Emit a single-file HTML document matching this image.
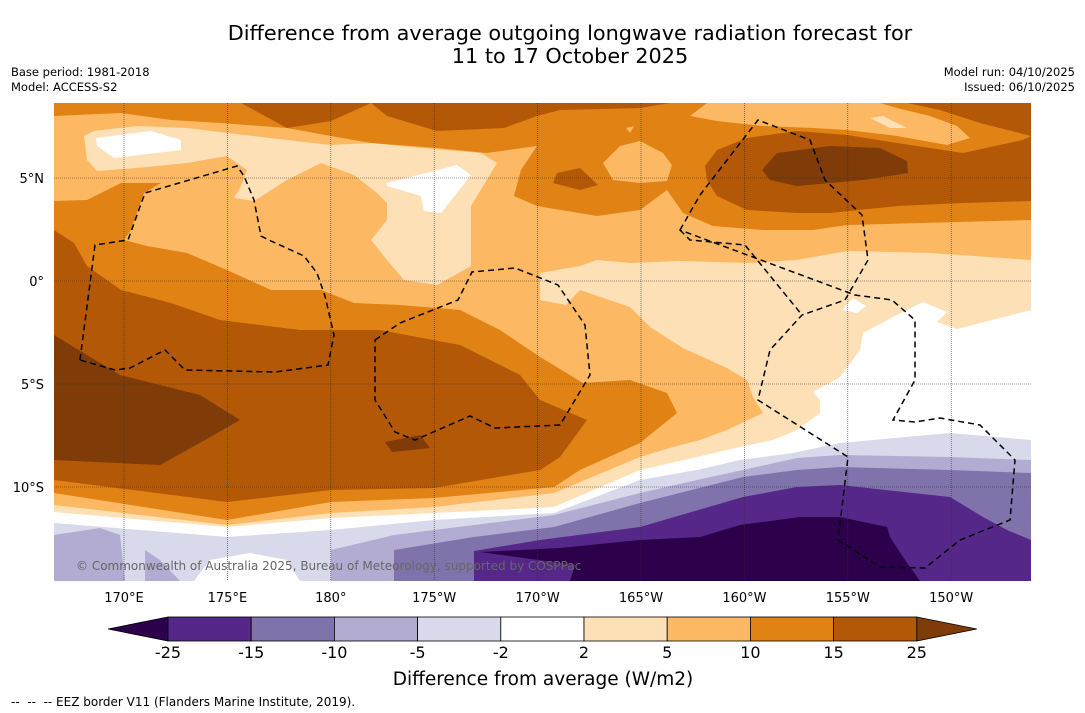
<!DOCTYPE html>
<html><head><meta charset="utf-8">
<style>
body{margin:0;background:#fff;width:1085px;height:713px;overflow:hidden;font-family:"DejaVu Sans","Liberation Sans",sans-serif;}
.t{position:absolute;color:#000;}
</style></head><body>
<div class="t" style="left:0;width:1140px;top:22px;text-align:center;font-size:20.8px;line-height:23px">Difference from average outgoing longwave radiation forecast for<br>11 to 17 October 2025</div>
<div class="t" style="left:11px;top:65px;font-size:11.5px;line-height:15px">Base period: 1981-2018<br>Model: ACCESS-S2</div>
<div class="t" style="right:10px;top:65px;font-size:11.5px;line-height:15px;text-align:right">Model run: 04/10/2025<br>Issued: 06/10/2025</div>
<svg id="chart" width="1085" height="713" style="position:absolute;left:0;top:0" font-family="DejaVu Sans,Liberation Sans,sans-serif">
<defs><clipPath id="mc"><rect x="54" y="103" width="977" height="478"/></clipPath></defs>
<g clip-path="url(#mc)">
<rect x="54" y="103" width="977" height="478" fill="#fdb863"/>
<path fill="#e08214" d="M54,103 L1031,103 L1031,220 L847,225 L813,230 L763,230 L713,226 L683,213 L667,190 L640,210 L597,216 L537,206 L514,196 L521,170 L537,146 L487,153 L437,148 L371,143 L331,136 L287,128 L221,123 L171,120 L121,113 L54,116 Z"/>
<path fill="#e08214" d="M54,201 L87,200 L121,183 L161,183 L144,193 L131,230 L124,240 L147,246 L187,253 L227,270 L271,290 L321,290 L354,303 L400,305 L460,310 L500,330 L540,357 L583,383 L630,380 L667,393 L677,413 L640,443 L580,470 L554,487 L434,498 L331,502 L227,520 L54,493 Z"/>
<path fill="#fdb863" d="M690,116 L707,103 L880,103 L897,108 L930,116 L957,126 L970,138 L947,145 L897,136 L847,130 L813,128 L763,126 L717,121 Z M603,163 L620,146 L640,141 L663,153 L672,165 L667,181 L640,183 L613,180 Z M626,128 L634,126 L630,133 Z"/>
<path fill="#b35806" d="M241,103 L670,103 L640,108 L560,110 L537,116 L504,128 L437,131 L387,116 L371,103 L331,121 L287,128 Z M907,103 L1031,103 L1031,136 L980,123 L940,110 Z M705,166 L717,150 L747,138 L797,131 L847,135 L897,143 L963,153 L1023,140 L1031,136 L1031,201 L963,203 L897,206 L830,213 L797,213 L747,210 L717,196 L707,180 Z M553,183 L557,173 L580,168 L598,185 L580,190 Z M54,230 L74,243 L87,266 L121,290 L171,303 L220,320 L300,330 L380,330 L460,345 L520,375 L540,400 L587,420 L560,457 L540,470 L434,488 L331,490 L227,502 L54,480 Z"/>
<path fill="#7f3b08" d="M54,335 L120,375 L200,395 L240,420 L205,440 L160,465 L54,460 Z M762,170 L777,153 L830,146 L880,148 L907,161 L908,173 L863,180 L797,186 L770,180 Z M385,442 L420,435 L430,448 L392,452 Z"/>
<path fill="#fee0b6" d="M84,136 L87,160 L97,171 L137,168 L187,163 L227,156 L247,170 L241,186 L234,198 L254,201 L287,180 L321,163 L354,175 L377,193 L387,203 L387,220 L371,240 L387,260 L404,280 L437,285 L471,266 L471,206 L497,163 L481,153 L421,148 L371,143 L331,145 L287,140 L227,133 L187,128 L137,126 L94,131 Z M870,118 L883,116 L907,128 L890,128 Z"/>
<path fill="#ffffff" d="M96,138 L151,131 L181,140 L181,150 L114,158 L97,146 Z M387,183 L457,165 L471,175 L441,213 L424,211 L421,196 L387,186 Z"/>
<path fill="#fee0b6" d="M54,505 L227,525 L331,513 L434,507 L554,493 L640,457 L673,447 L700,440 L727,430 L763,413 L753,397 L747,380 L727,368 L683,348 L650,327 L630,307 L580,290 L566,305 L540,300 L540,273 L580,266 L597,260 L630,263 L680,261 L747,263 L797,260 L847,251 L930,253 L1031,260 L1031,581 L54,581 Z"/>
<path fill="#ffffff" d="M54,512 L227,527 L331,518 L434,513 L554,507 L640,470 L697,457 L740,447 L773,440 L797,430 L820,413 L820,400 L813,392 L840,377 L860,350 L863,333 L893,317 L923,302 L947,312 L937,322 L957,329 L1031,310 L1031,581 L54,581 Z M842,310 L853,298 L866,306 L857,313 Z"/>
<path fill="#d8daeb" d="M54,523 L227,537 L331,530 L434,520 L554,513 L640,480 L697,470 L740,460 L793,453 L840,443 L950,433 L1031,440 L1031,581 L54,581 Z"/>
<path fill="#ffffff" d="M194,581 L210,560 L250,553 L287,560 L300,581 Z"/>
<path fill="#b2abd2" d="M54,535 L100,528 L120,535 L125,581 L54,581 Z M145,550 L160,560 L180,581 L145,581 Z M331,550 L394,535 L474,525 L554,515 L640,493 L697,480 L743,470 L797,458 L840,455 L950,457 L1031,460 L1031,581 L331,581 Z"/>
<path fill="#8073ac" d="M394,550 L474,537 L554,527 L640,503 L743,477 L797,470 L840,467 L950,470 L1031,473 L1031,581 L394,581 Z"/>
<path fill="#542788" d="M474,551 L540,540 L640,527 L743,497 L797,487 L840,485 L950,497 L983,517 L1007,530 L1031,540 L1031,581 L474,581 Z"/>
<path fill="#2d004b" d="M480,552 L560,548 L640,540 L700,537 L740,525 L800,517 L840,517 L887,527 L890,537 L905,560 L920,581 L570,581 L575,565 Z"/>
<g id="grid"></g>
<path fill="none" stroke="#000" stroke-width="1.5" stroke-dasharray="6,4" d="M80,360 L95,245 L128,240 L145,193 L237,166 L244,176 L254,200 L261,236 L271,241 L304,256 L317,273 L325,296 L334,335 L328,365 L275,372 L185,370 L165,350 L130,368 L115,370 Z M680,230 L700,195 L758,120 L810,140 L825,180 L862,215 L868,260 L845,300 L802,315 L770,350 L758,400 L848,457 L838,540 L880,567 L925,568 L960,540 L1010,520 L1015,460 L980,425 L940,418 L915,422 L893,420 L915,380 L915,320 L892,300 L855,295 Z M680,230 L690,240 L745,245 L802,315 M375,340 L400,323 L458,300 L472,272 L515,268 L558,285 L585,325 L590,375 L560,425 L495,428 L470,416 L415,440 L395,432 L375,400 Z"/>
</g>
<text x="76" y="570" font-size="12" fill="#666">© Commonwealth of Australia 2025, Bureau of Meteorology, supported by COSPPac</text>
<g id="axes"></g>
<g id="cbar"></g>
<text x="543" y="685" text-anchor="middle" font-size="18.5">Difference from average (W/m2)</text>
<text x="11" y="706" font-size="12" xml:space="preserve">--  --  -- EEZ border V11 (Flanders Marine Institute, 2019).</text>
</svg>
<script>
const lonTicks=[170,175,180,185,190,195,200,205,210];
const lonLabels=["170°E","175°E","180°","175°W","170°W","165°W","160°W","155°W","150°W"];
const latTicks=[5,0,-5,-10];
const latLabels=["5°N","0°","5°S","10°S"];
const levels=["-25","-15","-10","-5","-2","2","5","10","15","25"];
const binColors=["#542788","#8073ac","#b2abd2","#d8daeb","#ffffff","#fee0b6","#fdb863","#e08214","#b35806"];
const lowColor="#2d004b", highColor="#7f3b08";
const NS="http://www.w3.org/2000/svg";
const xLon=l=>124+(l-170)*20.68;
const yLat=l=>281-l*20.6;
function mk(t,a,p){const e=document.createElementNS(NS,t);for(const k in a)e.setAttribute(k,a[k]);p.appendChild(e);return e;}
const grid=document.getElementById('grid'),axes=document.getElementById('axes'),cb=document.getElementById('cbar');
lonTicks.forEach((l,i)=>{
 const g=mk('line',{x1:xLon(l),x2:xLon(l),y1:103,y2:581,stroke:'#333','stroke-width':0.6,'stroke-dasharray':'1,1'},grid);
 
 
 const t=mk('text',{x:xLon(l),y:602,'text-anchor':'middle','font-size':13},axes);
 t.textContent=lonLabels[i];
 
 
});
latTicks.forEach((l,i)=>{
 const g=mk('line',{x1:54,x2:1031,y1:yLat(l),y2:yLat(l),stroke:'#333','stroke-width':0.6,'stroke-dasharray':'1,1'},grid);
 
 
 const t=mk('text',{x:44,y:yLat(l)+5,'text-anchor':'end','font-size':13},axes);
 t.textContent=latLabels[i];
 
 
});
const cx0=168,cw=83.2,cy=617,ch=24;
const lt=mk('polygon',{points:`108,${cy+ch/2} ${cx0},${cy} ${cx0},${cy+ch}`,fill:lowColor,stroke:'#000','stroke-width':0.8},cb);


binColors.forEach((c,i)=>{
 const r=mk('rect',{x:cx0+i*cw,y:cy,width:cw,height:ch,fill:c,stroke:'#000','stroke-width':0.8},cb);
 
 
});
const xe=cx0+binColors.length*cw;
const ht=mk('polygon',{points:`${xe},${cy} ${xe+60},${cy+ch/2} ${xe},${cy+ch}`,fill:highColor,stroke:'#000','stroke-width':0.8},cb);


levels.forEach((v,i)=>{
 const t=mk('text',{x:cx0+i*cw,y:658,'text-anchor':'middle','font-size':16},cb);
 t.textContent=v;
 
 
});
</script>
</body></html>
